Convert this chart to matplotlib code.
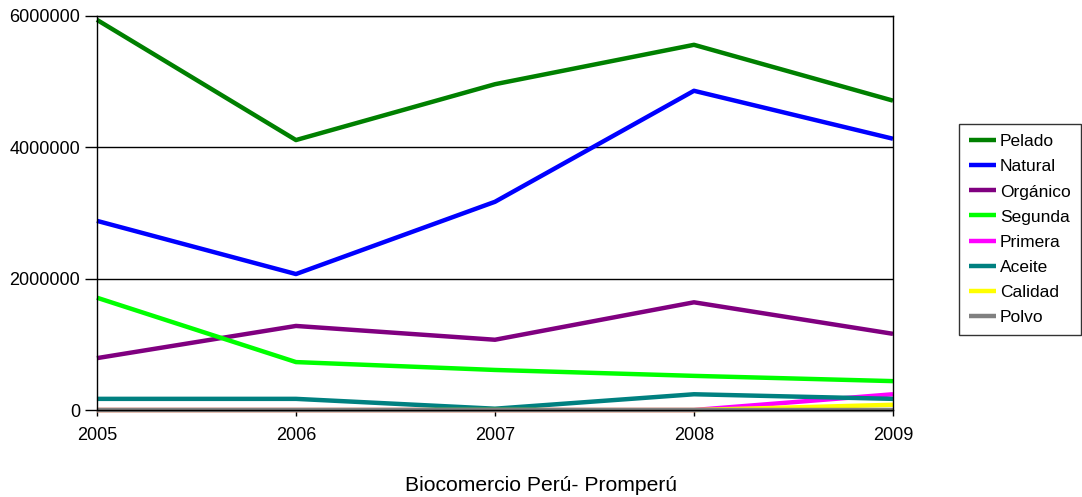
import matplotlib
matplotlib.use("Agg")
import matplotlib.pyplot as plt

plt.rcParams['font.family'] = ['Liberation Sans', 'DejaVu Sans']

years = [2005, 2006, 2007, 2008, 2009]
pelado = [5940000, 4110000, 4960000, 5560000, 4710000]
natural = [2880000, 2070000, 3170000, 4860000, 4130000]
organico = [790000, 1280000, 1070000, 1640000, 1160000]
segunda = [1710000, 730000, 610000, 520000, 440000]
primera = [0, 0, 0, 0, 240000]
aceite = [170000, 170000, 20000, 240000, 170000]
calidad = [0, 0, 0, 0, 80000]
polvo = [0, 0, 0, 0, 0]

series = [
    ("Pelado", pelado, "#008000"),
    ("Natural", natural, "#0000ff"),
    ("Orgánico", organico, "#800080"),
    ("Segunda", segunda, "#00ff00"),
    ("Primera", primera, "#ff00ff"),
    ("Aceite", aceite, "#008080"),
    ("Calidad", calidad, "#ffff00"),
    ("Polvo", polvo, "#808080"),
]

fig = plt.figure(figsize=(10.82, 4.97), dpi=100)
ax = fig.add_axes([0.0896, 0.175, 0.7357, 0.793])

for name, vals, color in series:
    ax.plot(years, vals, color=color, lw=3.2, label=name, solid_capstyle='butt', clip_on=False)

ax.set_xlim(2005, 2009)
ax.set_ylim(0, 6000000)
ax.set_xticks(years)
ax.set_yticks([0, 2000000, 4000000, 6000000])
ax.set_yticklabels(["0", "2000000", "4000000", "6000000"])
ax.yaxis.grid(True, color='black', lw=1)
ax.set_axisbelow(True)
ax.tick_params(axis='both', labelsize=13, width=1, direction='out', color='black')
ax.tick_params(axis='y', length=9, pad=3)
ax.tick_params(axis='x', length=4, pad=8)
for s in ax.spines.values():
    s.set_linewidth(1)
    s.set_color('black')

leg = ax.legend(loc='center left', bbox_to_anchor=(1.083, 0.458), frameon=True, fancybox=False,
                edgecolor='black', fontsize=12.5, handlelength=1.5, handletextpad=0.25,
                labelspacing=0.57, borderpad=0.6, borderaxespad=0)
leg.get_frame().set_linewidth(1)

fig.text(0.5, 0.004, "Biocomercio Perú- Promperú", ha='center', va='bottom', fontsize=15.2)

fig.savefig("out.png", dpi=100)
